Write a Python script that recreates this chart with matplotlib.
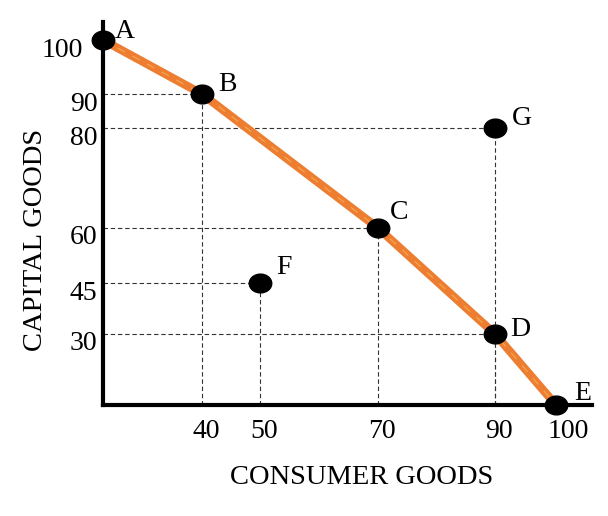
import numpy as np
import matplotlib
matplotlib.use('Agg')
import matplotlib.pyplot as plt
from matplotlib.markers import MarkerStyle
from matplotlib.transforms import Affine2D, ScaledTranslation

# data
ppf_x = [0, 40, 70, 90, 100]          # A B C D E
ppf_y = [100, 90, 60, 30, 0]
point_names = ['A', 'B', 'C', 'D', 'E', 'F', 'G']
point_x = [0, 40, 70, 90, 100, 50, 90]
point_y = [100, 90, 60, 30, 0, 45, 80]
guide_points = ['B', 'G', 'C', 'F', 'D']   # dashed lines to both axes
x_ticks = [40, 50, 70, 90, 100]
y_ticks = [30, 45, 60, 80, 90, 100]

# the sketch is not drawn to scale: piecewise axis spacing (pixels per tick)
x_anchor_val = [-10, 0, 40, 50, 70, 90, 100, 120]
x_anchor_pos = [-60, 0, 99, 157, 275, 392, 453, 575]
y_anchor_val = [-10, 0, 30, 45, 60, 80, 90, 100, 120]
y_anchor_pos = [-70, 0, 71, 122, 177, 277, 311, 365, 473]


def make_scale(vals, pos):
    fwd = lambda v: np.interp(v, vals, pos)
    inv = lambda p: np.interp(p, pos, vals)
    return fwd, inv


plt.rcParams['font.family'] = ['Liberation Serif', 'DejaVu Serif']

W, H = 608, 516
fig = plt.figure(figsize=(W / 100, H / 100), dpi=100)
ax = fig.add_axes([103 / W, (H - 405) / H, (592 - 103) / W, (405 - 22) / H])

ax.set_xscale('function', functions=make_scale(x_anchor_val, x_anchor_pos))
ax.set_yscale('function', functions=make_scale(y_anchor_val, y_anchor_pos))
ax.set_xlim(0, 100 + (592 - 556) / 6.1)
ax.set_ylim(0, 100 + (40 - 22) / 5.4)

for s in ['top', 'right']:
    ax.spines[s].set_visible(False)
for s in ['left', 'bottom']:
    ax.spines[s].set_linewidth(3)
    ax.spines[s].set_capstyle('projecting')

# dashed guides
pts = dict(zip(point_names, zip(point_x, point_y)))
for name in guide_points:
    px, py = pts[name]
    ax.plot([0, px], [py, py], color='#333333', lw=0.8, dashes=(4, 2.5), zorder=1)
    ax.plot([px, px], [0, py], color='#333333', lw=0.8, dashes=(4, 2.5), zorder=1)

# production possibilities frontier
ax.plot(ppf_x, ppf_y, color='#ED7D31', lw=6, solid_capstyle='round',
        solid_joinstyle='round', zorder=2, clip_on=False)
ax.plot(ppf_x, ppf_y, color='#F4A14A', lw=1, dashes=(6, 6), zorder=2, clip_on=False)

mk = MarkerStyle('o', transform=Affine2D().scale(1.2, 1.0))
ax.plot(point_x, point_y, linestyle='none', marker=mk, ms=13.5, color='black',
        zorder=3, clip_on=False)

label_offsets = {'A': (16, 6), 'B': (18, 7), 'C': (15, 11), 'D': (18, 3),
                 'E': (19, 8), 'F': (17, 11), 'G': (19, 7)}
for name, px, py in zip(point_names, point_x, point_y):
    ax.annotate(name, (px, py), xytext=label_offsets[name], textcoords='offset points',
                ha='center', va='center', fontsize=20)

ax.set_xticks(x_ticks, [str(v) for v in x_ticks])
ax.set_yticks(y_ticks, [str(v) for v in y_ticks])
ax.minorticks_off()
ax.tick_params(length=0, labelsize=20)
ax.tick_params(axis='x', pad=10)
ax.tick_params(axis='y', pad=4)

for lab in ax.get_xticklabels():
    dx = 4 if lab.get_text() != '100' else 12
    lab.set_transform(lab.get_transform() + ScaledTranslation(dx / 100, 0, fig.dpi_scale_trans))
for lab in ax.get_yticklabels():
    dx = -14 if lab.get_text() == '100' else 0
    lab.set_transform(lab.get_transform() + ScaledTranslation(dx / 100, -7 / 100, fig.dpi_scale_trans))

fig.text(362 / W, 1 - 478 / H, 'CONSUMER GOODS', ha='center', va='center', fontsize=20.5)
fig.text(36 / W, 1 - 240 / H, 'CAPITAL GOODS', ha='center', va='center', fontsize=20.5,
         rotation=90)

fig.savefig('out.png', dpi=100)
